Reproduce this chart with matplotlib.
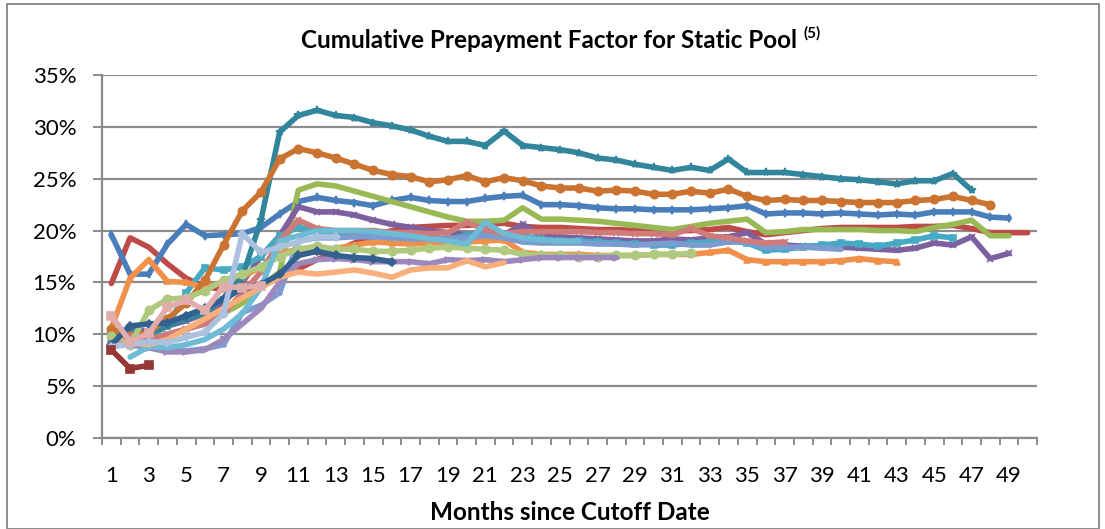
import numpy as np
import matplotlib
matplotlib.use("Agg")
import matplotlib.pyplot as plt
from matplotlib.ticker import FixedLocator, FuncFormatter
from matplotlib.patches import Rectangle

# ---------------- data (cumulative prepayment factor, %) ----------------
months = list(range(1, 51))

pool_blue = [19.6, 15.8, 15.8, 18.7, 20.6, 19.5, 19.6, 19.7, 20.3, 21.6, 22.8, 23.2, 22.9, 22.7, 22.4,
             22.9, 23.2, 22.9, 22.8, 22.8, 23.1, 23.3, 23.4, 22.5, 22.5, 22.4, 22.2, 22.1, 22.1, 22.0,
             22.0, 22.0, 22.1, 22.2, 22.4, 21.6, 21.7, 21.7, 21.6, 21.7, 21.6, 21.5, 21.6, 21.5, 21.8,
             21.8, 21.8, 21.3, 21.2]
pool_red = [14.9, 19.3, 18.4, 16.8, 15.4, 14.6, 14.3, 14.2, 14.8, 15.4, 16.3, 17.2, 18.0, 18.8, 19.5,
            20.0, 20.3, 20.4, 20.5, 20.5, 20.6, 20.7, 20.4, 20.3, 20.3, 20.2, 20.1, 20.1, 20.0, 20.0,
            20.0, 20.0, 20.1, 20.3, 19.9, 19.6, 19.8, 20.0, 20.2, 20.3, 20.3, 20.3, 20.3, 20.4, 20.4,
            20.5, 20.2, 19.8, 19.8, 19.8]
pool_green = [10.3, 9.0, 9.5, 10.0, 10.5, 11.0, 12.0, 13.0, 14.5, 16.0, 23.9, 24.5, 24.3, 23.8, 23.3,
              22.8, 22.3, 21.8, 21.3, 20.9, 20.9, 21.0, 22.2, 21.1, 21.1, 21.0, 20.9, 20.7, 20.5, 20.3,
              20.1, 20.4, 20.7, 20.9, 21.1, 19.8, 19.9, 20.1, 20.1, 20.1, 20.1, 20.0, 20.0, 19.9, 20.3,
              20.6, 21.0, 19.5, 19.5]
pool_purple = [10.2, 10.5, 10.3, 10.8, 11.3, 12.0, 13.0, 15.0, 17.5, 19.5, 22.3, 21.8, 21.8, 21.5, 21.0,
               20.6, 20.3, 20.0, 19.8, 19.6, 19.6, 19.6, 20.6, 19.5, 19.4, 19.3, 19.2, 19.1, 19.0, 19.0,
               19.2, 19.1, 19.3, 19.4, 19.8, 18.7, 18.6, 18.5, 18.5, 18.4, 18.3, 18.2, 18.1, 18.3, 18.8,
               18.6, 19.4, 17.3, 17.8]
pool_aqua = [10.0, 9.5, 9.8, 10.8, 14.0, 16.4, 16.2, 16.5, 17.5, 19.5, 20.3, 20.0, 19.8, 19.6, 19.5,
             19.5, 19.4, 19.3, 19.2, 19.5, 19.7, 19.6, 19.5, 19.2, 19.0, 19.0, 18.9, 18.8, 18.7, 18.6,
             18.6, 18.8, 18.9, 19.0, 18.8, 18.1, 18.2, 18.4, 18.6, 18.8, 18.7, 18.5, 18.8, 19.1, 19.5,
             19.3]
pool_orange = [10.6, 15.4, 17.2, 15.1, 15.0, 14.5, 15.0, 15.5, 16.5, 17.8, 18.2, 18.0, 18.3, 18.6, 18.9,
               18.8, 18.7, 18.8, 18.9, 18.9, 19.0, 19.1, 17.9, 17.7, 17.7, 17.7, 17.6, 17.6, 17.6, 17.7,
               17.7, 17.7, 17.9, 18.1, 17.2, 17.0, 17.0, 17.0, 17.0, 17.1, 17.3, 17.1, 17.0]
pool_teal = [10.0, 10.3, 10.0, 10.8, 11.5, 12.0, 13.5, 15.5, 21.0, 29.5, 31.1, 31.6, 31.1, 30.9, 30.4,
             30.1, 29.7, 29.1, 28.6, 28.6, 28.2, 29.6, 28.2, 28.0, 27.8, 27.5, 27.0, 26.8, 26.4, 26.1,
             25.8, 26.1, 25.8, 26.9, 25.6, 25.6, 25.6, 25.4, 25.2, 25.0, 24.9, 24.7, 24.5, 24.8, 24.8,
             25.5, 23.9]
pool_dkorange = [10.5, 9.8, 10.2, 11.5, 13.0, 15.2, 18.6, 21.9, 23.7, 26.9, 27.9, 27.5, 27.0, 26.4, 25.8,
                 25.4, 25.2, 24.7, 24.9, 25.3, 24.7, 25.1, 24.8, 24.3, 24.1, 24.1, 23.8, 23.9, 23.8, 23.5,
                 23.5, 23.8, 23.6, 24.0, 23.3, 22.9, 23.0, 22.9, 22.9, 22.8, 22.7, 22.7, 22.7, 22.9, 23.0,
                 23.3, 22.9, 22.5]
pool_periwinkle = [9.5, 9.0, 8.8, 8.4, 8.4, 8.6, 9.0, 12.1, 12.8, 14.0, 19.0, 19.3, 19.3, 19.4, 19.4,
                   19.3, 19.2, 19.2, 19.2, 19.3, 19.5, 19.3, 18.9, 18.8, 18.8, 18.8, 18.7, 18.7, 18.6, 18.7,
                   18.8, 18.6, 18.6, 18.9, 18.9, 18.4, 18.4, 18.4, 18.3, 18.2]
pool_salmon = [9.5, 9.8, 9.5, 10.0, 10.5, 11.0, 12.0, 14.0, 16.0, 19.0, 21.0, 20.2, 20.0, 20.0, 20.0,
               19.8, 19.8, 19.7, 19.8, 20.8, 20.1, 19.7, 19.9, 19.9, 19.9, 19.9, 19.8, 19.8, 19.7, 19.7,
               19.6, 20.2, 19.5, 19.3, 19.0, 18.8, 18.9]
pool_ltgreen = [9.8, 9.0, 12.3, 13.4, 13.5, 14.2, 15.2, 15.8, 16.5, 17.5, 18.2, 18.5, 18.2, 18.2, 18.0,
                18.0, 18.1, 18.3, 18.4, 18.3, 18.2, 18.1, 17.7, 17.6, 17.6, 17.5, 17.5, 17.6, 17.6, 17.7,
                17.7, 17.8]
pool_lavender = [9.2, 9.0, 8.7, 8.3, 8.3, 8.5, 9.5, 11.0, 12.5, 15.0, 16.8, 17.2, 17.3, 17.2, 17.0,
                 17.0, 17.0, 16.8, 17.2, 17.1, 17.2, 17.0, 17.2, 17.4, 17.4, 17.4, 17.4, 17.4]
pool_sky = [np.nan, 7.8, 8.8, 8.7, 9.0, 9.5, 10.5, 12.0, 14.5, 19.0, 19.5, 20.0, 20.0, 20.0, 19.9,
            19.7, 19.5, 19.2, 19.0, 18.7, 20.8, 19.7, 19.3, 19.1, 19.0, 19.0]
pool_ltorange = [8.8, 9.2, 9.0, 9.5, 10.5, 11.5, 12.5, 13.5, 14.5, 15.5, 16.0, 15.8, 16.0, 16.2, 15.9,
                 15.5, 16.2, 16.4, 16.4, 17.1, 16.5, 16.9]
pool_dkblue = [9.0, 10.8, 11.0, 11.1, 11.8, 12.5, 13.4, 14.4, 14.8, 15.8, 17.6, 18.0, 17.6, 17.4, 17.3,
               17.0]
pool_paleblue = [8.8, 9.0, 9.3, 9.2, 9.7, 10.2, 12.0, 19.7, 17.9, 18.4, 18.9, 19.4, 19.4]
pool_palepink = [11.8, 9.3, 10.1, 12.6, 13.3, 12.3, 14.6, 14.5, 14.7]
pool_dkred = [8.5, 6.7, 7.0]

x_tick_labels = [str(m) for m in range(1, 50, 2)]
y_ticks = [0, 5, 10, 15, 20, 25, 30, 35]

# ---------------- styles ----------------
series = [
    (pool_red, "#BE4B48", None, 0),
    (pool_blue, "#4A7EBB", "d", 4),
    (pool_green, "#98B954", None, 0),
    (pool_purple, "#7D60A0", "x", 4),
    (pool_aqua, "#46AAC5", "s", 5),
    (pool_orange, "#F0904A", "^", 5),
    (pool_teal, "#31859C", "*", 6),
    (pool_dkorange, "#CB7431", "o", 6),
    (pool_periwinkle, "#7C9BD0", ".", 4),
    (pool_salmon, "#CF7B79", "x", 4),
    (pool_ltgreen, "#AFCA7E", "o", 6),
    (pool_lavender, "#9C88BD", ">", 5),
    (pool_sky, "#6DBBD5", None, 0),
    (pool_ltorange, "#F9AF7B", None, 0),
    (pool_dkblue, "#34608F", "D", 4),
    (pool_paleblue, "#ABC1E0", "D", 4),
    (pool_palepink, "#E0ADAC", "s", 6),
    (pool_dkred, "#953735", "s", 6),
]

W, H = 1105, 529
fig = plt.figure(figsize=(W / 100, H / 100), dpi=100)
FONT = ["Lato", "DejaVu Sans"]
plt.rcParams["font.family"] = FONT

ax_l, ax_r, ax_t, ax_b = 102, 1037, 75, 438
ax = fig.add_axes([ax_l / W, 1 - ax_b / H, (ax_r - ax_l) / W, (ax_b - ax_t) / H])

for vals, col, mk, ms in series:
    xs = months[:len(vals)]
    ax.plot(xs, vals, color=col, lw=4.0, marker=mk, markersize=ms,
            markeredgecolor=col, markerfacecolor=col, markeredgewidth=1.2,
            solid_joinstyle="round", solid_capstyle="round")

grid_col = "#8C8C8C"
ax.set_xlim(0.5, 50.5)
ax.set_ylim(0, 35)
ax.yaxis.set_major_locator(FixedLocator(y_ticks))
ax.yaxis.set_major_formatter(FuncFormatter(lambda v, p: f"{int(v)}%"))
ax.grid(axis="y", color=grid_col, lw=1.6)
ax.set_axisbelow(True)

ax.xaxis.set_major_locator(FixedLocator(list(range(1, 50, 2))))
ax.set_xticklabels(x_tick_labels)
ax.xaxis.set_minor_locator(FixedLocator(np.arange(0.5, 51, 1.0)))
ax.tick_params(axis="x", which="major", length=0, pad=20, labelsize=16)
ax.tick_params(axis="x", which="minor", length=5, width=1.4, color=grid_col, direction="out")
ax.tick_params(axis="y", which="major", length=6.5, width=1.4, color=grid_col, pad=12, labelsize=16)

for s in ["top", "right"]:
    ax.spines[s].set_visible(False)
for s in ["left", "bottom"]:
    ax.spines[s].set_color(grid_col)
    ax.spines[s].set_linewidth(1.6)

# chart border
fig.patches.append(Rectangle((7 / W, 0), (1099 - 7) / W, 1 - 4 / H, transform=fig.transFigure,
                             fill=False, edgecolor="#8C8C8C", lw=1.4))

# title with superscript
title_cx = 561
t_main = fig.text(title_cx / W, 1 - 41 / H, "Cumulative Prepayment Factor for Static Pool",
                  ha="center", va="center", fontsize=17.5, fontweight="bold")
fig.canvas.draw()
r = fig.canvas.get_renderer()
bb = t_main.get_window_extent(r)
t_sup = fig.text(0, 0, "(5)", ha="left", va="baseline", fontsize=11, fontweight="bold")
fig.canvas.draw()
sbb = t_sup.get_window_extent(r)
gap = 7
total = bb.width + gap + sbb.width
left = title_cx - total / 2
t_main.set_ha("left")
t_main.set_x(left / W)
t_sup.set_position(((left + bb.width + gap) / W, (H - 38) / H))

fig.text(570 / W, 1 - 512 / H, "Months since Cutoff Date", ha="center", va="center",
         fontsize=17.5, fontweight="bold")

fig.savefig("out.png", dpi=100)
